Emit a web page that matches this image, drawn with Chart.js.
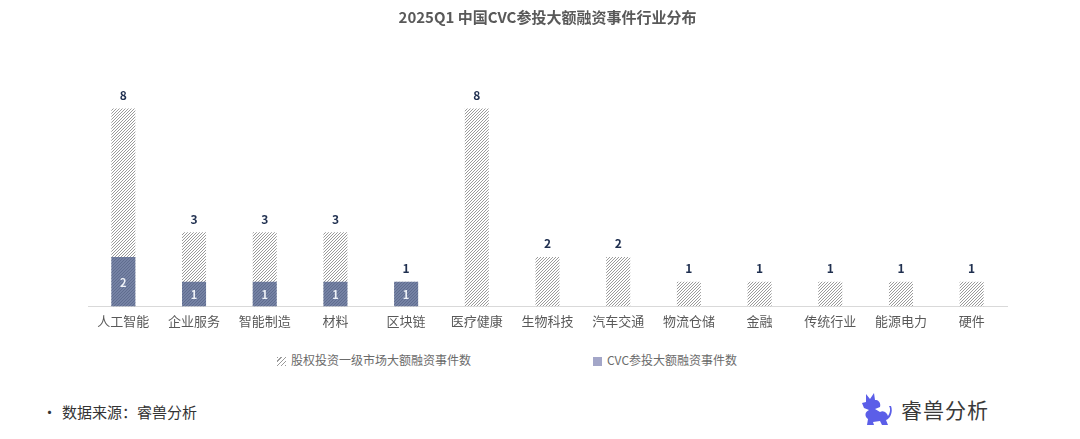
<!DOCTYPE html>
<html lang="zh-CN">
<head>
<meta charset="utf-8">
<title>2025Q1 中国CVC参投大额融资事件行业分布</title>
<script src="https://cdn.jsdelivr.net/npm/chart.js@4.4.1/dist/chart.umd.min.js"></script>
<style>
  html, body { margin: 0; padding: 0; background: #fff; }
  body { width: 1080px; height: 439px; position: relative; overflow: hidden;
         font-family: "Noto Sans CJK SC", "Noto Sans", sans-serif; }
  #chart-wrap { position: absolute; left: 0; top: 0; width: 1080px; height: 336px; }
  .legend { position: absolute; top: 351px; font-size: 12px; color: #6b6b6b; line-height: 18px; white-space: nowrap; }
  .legend i { display: inline-block; width: 9px; height: 9px; margin-right: 5px; vertical-align: -1px; }
  .sw-hatch { background: repeating-linear-gradient(-45deg, #9a9a9a 0 1px, #fff 1px 3px); }
  .sw-cvc { background: #a3a6c8; }
  .source { position: absolute; left: 42px; top: 401px; font-size: 15px; color: #333; line-height: 22px; }
  .source b { font-weight: normal; display: inline-block; width: 20px; }
  .logo { position: absolute; left: 860px; top: 390px; height: 38px; display: flex; align-items: center; }
  .logo span { font-size: 21px; color: #3a3a3a; margin-left: 9px; letter-spacing: 1px; }
</style>
</head>
<body>
<div id="chart-wrap"><canvas id="c"></canvas></div>

<div class="legend" style="left:277px"><i class="sw-hatch"></i>股权投资一级市场大额融资事件数</div>
<div class="legend" style="left:593px"><i class="sw-cvc"></i>CVC参投大额融资事件数</div>

<div class="source"><b>•</b>数据来源：睿兽分析</div>

<div class="logo">
  <svg width="32" height="36" viewBox="0 0 32 36">
    <g fill="#5b5ee8">
      <path d="M6 3 L10 8 L14 2 L15 9 C19 9 21 12 20 16 L15 18 L20 21 C24 19 27 22 28 25 C30 22 31 18 29 15 L31 15 C33 20 31 27 26 29 L28 34 L22 34 L20 30 L13 31 L14 34 L7 34 L8 28 C4 25 5 21 9 19 L4 17 L2 12 L6 11 Z"/>
    </g>
  </svg>
  <span>睿兽分析</span>
</div>

<script>
  var categories = ["人工智能", "企业服务", "智能制造", "材料", "区块链", "医疗健康", "生物科技", "汽车交通", "物流仓储", "金融", "传统行业", "能源电力", "硬件"];
  var marketEvents = [8, 3, 3, 3, 1, 8, 2, 2, 1, 1, 1, 1, 1];
  var cvcEvents = [2, 1, 1, 1, 1, 0, 0, 0, 0, 0, 0, 0, 0];
  var seriesNames = ["股权投资一级市场大额融资事件数", "CVC参投大额融资事件数"];

  var FONT = '"Noto Sans CJK SC", "Noto Sans", sans-serif';

  function hatchPattern() {
    var p = document.createElement("canvas");
    p.width = 3;
    p.height = 3;
    var g = p.getContext("2d");
    g.fillStyle = "#ffffff";
    g.fillRect(0, 0, 3, 3);
    g.strokeStyle = "#9a9a9a";
    g.lineWidth = 1;
    g.beginPath();
    g.moveTo(-1, 4); g.lineTo(4, -1);
    g.moveTo(-1, 1); g.lineTo(1, -1);
    g.moveTo(2, 4); g.lineTo(4, 2);
    g.stroke();
    return g.createPattern(p, "repeat");
  }

  // 막대 위 합계, CVC 막대 안의 값
  var valueLabels = {
    id: "valueLabels",
    afterDatasetsDraw: function (chart) {
      var ctx = chart.ctx;
      ctx.save();
      ctx.textAlign = "center";
      ctx.textBaseline = "middle";
      var top = chart.getDatasetMeta(0);
      top.data.forEach(function (bar, i) {
        ctx.fillStyle = "#1f2f4f";
        ctx.font = "bold 12px " + FONT;
        ctx.fillText(String(marketEvents[i]), bar.x, bar.y - 13);
      });
      var inner = chart.getDatasetMeta(1);
      inner.data.forEach(function (bar, i) {
        if (!cvcEvents[i]) return;
        ctx.fillStyle = "#eef1f7";
        ctx.font = "bold 11px " + FONT;
        ctx.fillText(String(cvcEvents[i]), bar.x, (bar.y + bar.base) / 2 + 1);
      });
      ctx.restore();
    }
  };

  new Chart(document.getElementById("c"), {
    type: "bar",
    data: {
      labels: categories,
      datasets: [
        {
          label: seriesNames[0],
          data: marketEvents,
          backgroundColor: hatchPattern(),
          borderWidth: 0,
          grouped: false,
          order: 2,
          barPercentage: 0.34,
          categoryPercentage: 1
        },
        {
          label: seriesNames[1],
          data: cvcEvents,
          backgroundColor: "rgba(78, 95, 138, 0.78)",
          borderWidth: 0,
          grouped: false,
          order: 1,
          barPercentage: 0.34,
          categoryPercentage: 1
        }
      ]
    },
    options: {
      responsive: true,
      maintainAspectRatio: false,
      animation: false,
      layout: { padding: { left: 88, right: 73, top: 0, bottom: 0 } },
      scales: {
        x: {
          grid: { display: false, drawTicks: false },
          border: { display: true, color: "#d9d9d9", width: 1 },
          ticks: { color: "#595959", font: { size: 13, family: FONT }, padding: 7, maxRotation: 0, autoSkip: false }
        },
        y: {
          display: false,
          min: 0,
          max: 10
        }
      },
      plugins: {
        legend: { display: false },
        tooltip: { enabled: false },
        title: {
          display: true,
          text: "2025Q1 中国CVC参投大额融资事件行业分布",
          color: "#595959",
          font: { size: 15, weight: "bold", family: FONT },
          padding: { top: 8, bottom: 33 }
        }
      }
    },
    plugins: [valueLabels]
  });
</script>
</body>
</html>
